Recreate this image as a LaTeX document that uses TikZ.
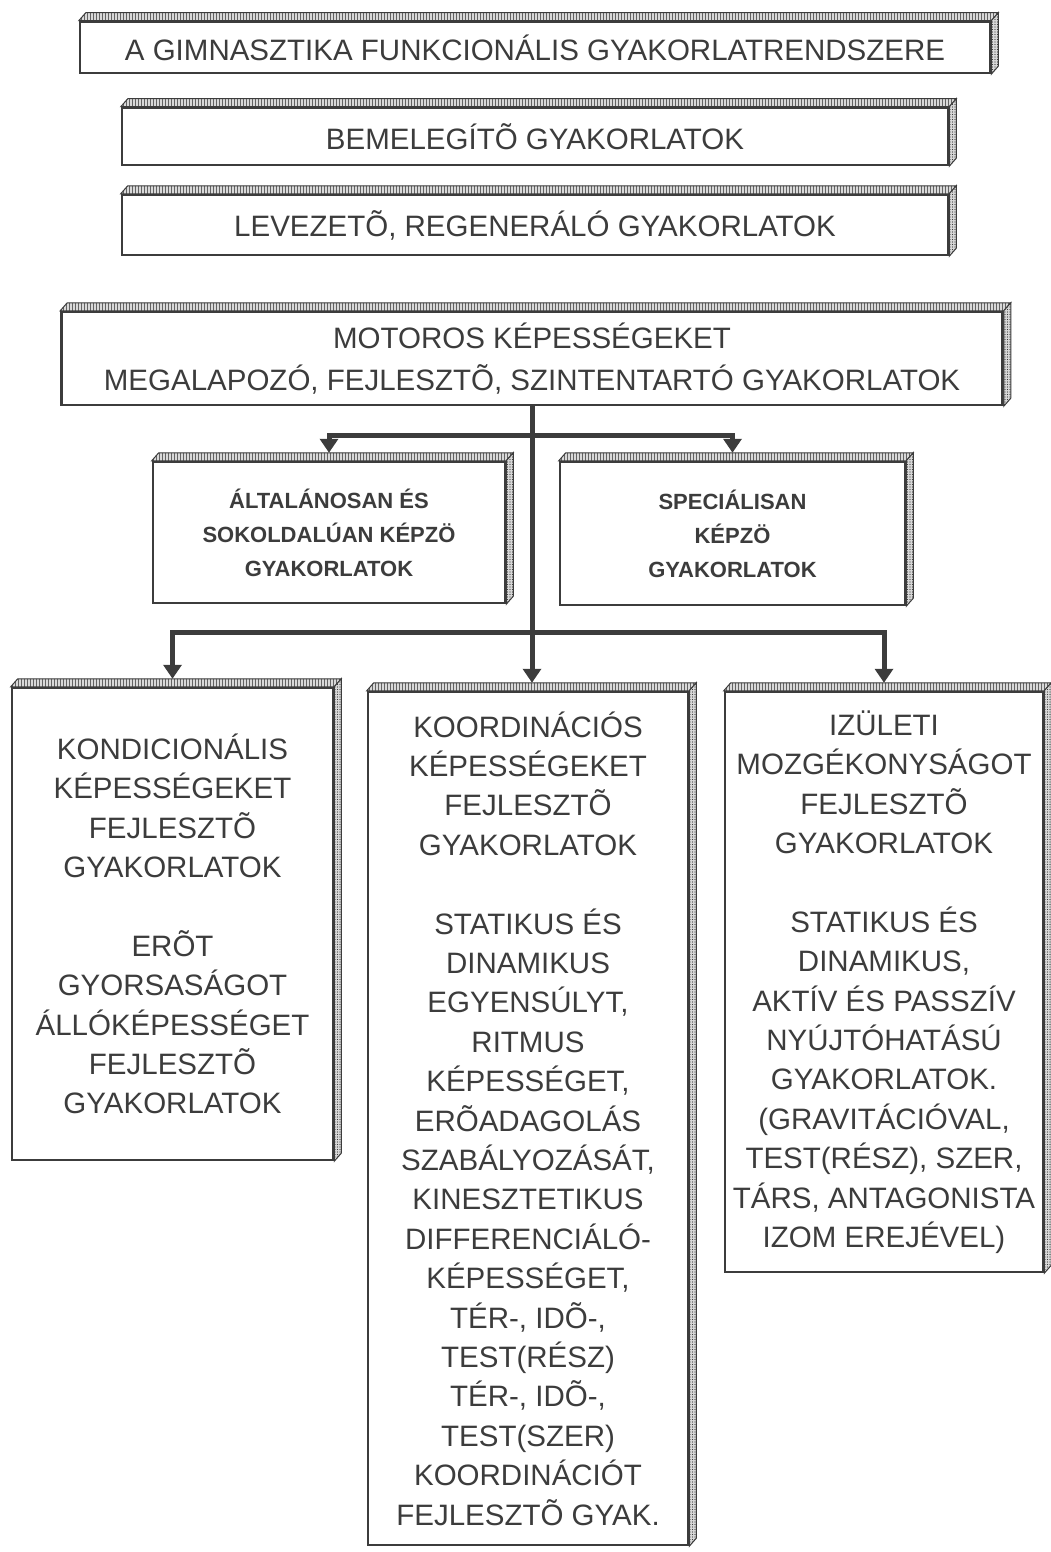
\documentclass[tikz,border=0pt]{standalone}
\usepackage{fontspec}
\setmainfont{Liberation Sans}
\usetikzlibrary{arrows.meta,patterns.meta}
\definecolor{ink}{HTML}{3C3C3C}
\newcommand{\capsfont}{\fontsize{29.5pt}{39.4pt}\selectfont}
\newcommand{\boldfont}{\fontsize{22pt}{34pt}\selectfont\bfseries}
% raised top edge and right side of a plate, and the point an arrow aims at
\newcommand{\bevel}[1]{%
  \draw[topband] (#1.north west) -- ++(7,-8) -- ([shift={(7,-8)}]#1.north east) -- (#1.north east) -- cycle;
  \draw[sideband] (#1.north east) -- ++(7,-8) -- ([shift={(7,-8)}]#1.south east) -- (#1.south east) -- cycle;
  \coordinate (#1-top) at ([yshift=8pt]#1.north);}

\begin{document}
\begin{tikzpicture}[x=1pt,y=-1pt,>={Triangle[width=18pt,length=14pt]},
  plate/.style={draw=ink,line width=2.5pt,fill=white,inner sep=0pt,align=center,text=ink,font=\capsfont},
  topband/.style={draw=ink,line width=1pt,preaction={fill=gray!30},pattern={Lines[angle=90,distance=3pt,line width=1pt]},pattern color=ink!80},
  sideband/.style={draw=ink,line width=1pt,preaction={fill=gray!30},pattern={Dots[distance=2.5pt,radius=0.6pt]},pattern color=ink},
  wire/.style={draw=ink,line width=5pt}]
  \useasboundingbox (0,0) rectangle (1050,1552);
  % upper row of plates
  \node[plate,minimum width=910pt,minimum height=51pt] (title) at (535,47.5) {A GIMNASZTIKA FUNKCIONÁLIS GYAKORLATRENDSZERE};
  \node[plate,minimum width=826pt,minimum height=57pt] (bemel) at (535,136.5) {BEMELEGÍTÕ GYAKORLATOK};
  \node[plate,minimum width=826pt,minimum height=60pt] (levez) at (535,225) {LEVEZETÕ, REGENERÁLÓ GYAKORLATOK};
  \node[plate,minimum width=941pt,minimum height=93pt,font=\fontsize{29.5pt}{42pt}\selectfont] (motor) at (532,358.5)
    {MOTOROS KÉPESSÉGEKET\\MEGALAPOZÓ, FEJLESZTÕ, SZINTENTARTÓ GYAKORLATOK};
  \node[plate,minimum width=352pt,minimum height=141pt,font=\boldfont] (altal) at (329,532.5)
    {ÁLTALÁNOSAN ÉS\\SOKOLDALÚAN KÉPZÖ\\GYAKORLATOK};
  \node[plate,minimum width=345pt,minimum height=143pt,font=\boldfont] (spec) at (732.5,533.5)
    {SPECIÁLISAN\\KÉPZÖ\\GYAKORLATOK};
  % the three tall columns
  \node[plate,minimum width=321pt,minimum height=472pt] (kond) at (172.5,924)
    {KONDICIONÁLIS\\KÉPESSÉGEKET\\FEJLESZTÕ\\GYAKORLATOK\\[39.4pt]
     ERÕT\\GYORSASÁGOT\\ÁLLÓKÉPESSÉGET\\FEJLESZTÕ\\GYAKORLATOK};
  \node[plate,minimum width=320pt,minimum height=853pt] (koord) at (528,1118.5)
    {KOORDINÁCIÓS\\KÉPESSÉGEKET\\FEJLESZTÕ\\GYAKORLATOK\\[39.4pt]
     STATIKUS ÉS\\DINAMIKUS\\EGYENSÚLYT,\\RITMUS\\KÉPESSÉGET,\\ERÕADAGOLÁS\\SZABÁLYOZÁSÁT,\\KINESZTETIKUS\\DIFFERENCIÁLÓ-\\KÉPESSÉGET,\\TÉR-, IDÕ-,\\TEST(RÉSZ)\\TÉR-, IDÕ-,\\TEST(SZER)\\KOORDINÁCIÓT\\FEJLESZTÕ GYAK.};
  \node[plate,minimum width=318pt,minimum height=580pt] (izul) at (884,982)
    {IZÜLETI\\MOZGÉKONYSÁGOT\\FEJLESZTÕ\\GYAKORLATOK\\[39.4pt]
     STATIKUS ÉS\\DINAMIKUS,\\AKTÍV ÉS PASSZÍV\\NYÚJTÓHATÁSÚ\\GYAKORLATOK.\\(GRAVITÁCIÓVAL,\\TEST(RÉSZ), SZER,\\TÁRS, ANTAGONISTA\\IZOM EREJÉVEL)};
  \foreach \p in {title,bemel,levez,motor,altal,spec,kond,koord,izul} \bevel{\p};
  % branching arrows
  \coordinate (fork1) at (532,435);
  \coordinate (fork2) at (532,632);
  \draw[wire] (motor.south) -- (fork2);
  \draw[wire,->] (fork2) -- (fork2 |- koord-top);
  \foreach \b in {altal,spec} \draw[wire,->] (fork1) -| (\b-top);
  \foreach \b in {kond,izul} \draw[wire,->] (fork2) -| (\b-top);
\end{tikzpicture}
\end{document}
